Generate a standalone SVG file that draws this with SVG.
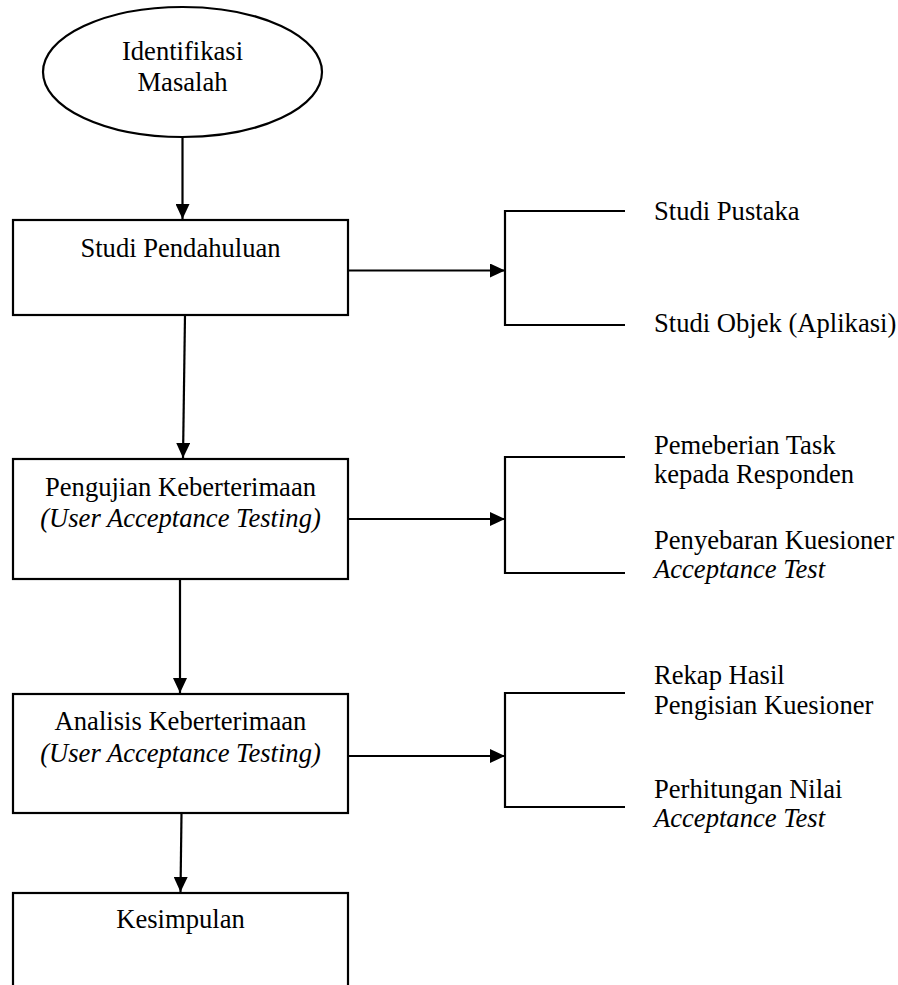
<svg xmlns="http://www.w3.org/2000/svg" width="898" height="985" viewBox="0 0 898 985">
<style>
.s{fill:none;stroke:#000;stroke-width:2.2}
.n{fill:#fff;stroke:#000;stroke-width:2.2}
text{font-size:26.6px;fill:#000}
.c{text-anchor:middle}
.i{font-style:italic}
</style>
<defs>
<marker id="ah" viewBox="0 0 15 14" refX="15" refY="7" markerWidth="15" markerHeight="14" markerUnits="userSpaceOnUse" orient="auto">
<path d="M0,0 L15,7 L0,14 Z" fill="#000"/>
</marker>
</defs>
<rect width="898" height="985" fill="#fff"/>
<g id="connectors">
<line class="s" x1="182.5" y1="137" x2="182.5" y2="219" marker-end="url(#ah)"/>
<line class="s" x1="185" y1="315" x2="183" y2="458" marker-end="url(#ah)"/>
<line class="s" x1="180" y1="579" x2="180" y2="693" marker-end="url(#ah)"/>
<line class="s" x1="181.5" y1="813" x2="180.5" y2="892" marker-end="url(#ah)"/>
<line class="s" x1="348" y1="270.5" x2="505" y2="270.5" marker-end="url(#ah)"/>
<line class="s" x1="348" y1="519" x2="505" y2="519" marker-end="url(#ah)"/>
<line class="s" x1="348" y1="756" x2="505" y2="756" marker-end="url(#ah)"/>
<path class="s" d="M625,211 H505 V325 H625"/>
<path class="s" d="M625,457 H505 V573 H625"/>
<path class="s" d="M625,693 H505 V807 H625"/>
</g>
<g font-family="Liberation Serif, DejaVu Serif, serif">
<g id="identifikasi">
<ellipse class="n" cx="182.5" cy="72" rx="139.5" ry="65"/>
<text class="c" x="182.5" y="60">Identifikasi</text>
<text class="c" x="182.5" y="91">Masalah</text>
</g>
<g id="studi">
<rect class="n" x="13" y="220" width="335" height="95"/>
<text class="c" x="180.5" y="257">Studi Pendahuluan</text>
</g>
<g id="pengujian">
<rect class="n" x="13" y="459" width="335" height="120"/>
<text class="c" x="180.5" y="496">Pengujian Keberterimaan</text>
<text class="c i" x="180.5" y="527">(User Acceptance Testing)</text>
</g>
<g id="analisis">
<rect class="n" x="13" y="694" width="335" height="119"/>
<text class="c" x="180.5" y="730">Analisis Keberterimaan</text>
<text class="c i" x="180.5" y="762">(User Acceptance Testing)</text>
</g>
<g id="kesimpulan">
<rect class="n" x="13" y="893" width="335" height="120"/>
<text class="c" x="180.5" y="928">Kesimpulan</text>
</g>
<g id="studi-pustaka"><text x="654" y="220">Studi Pustaka</text></g>
<g id="studi-objek"><text x="654" y="332">Studi Objek (Aplikasi)</text></g>
<g id="pemeberian"><text x="654" y="454">Pemeberian Task</text><text x="654" y="483">kepada Responden</text></g>
<g id="penyebaran"><text x="654" y="549">Penyebaran Kuesioner</text><text class="i" x="654" y="578">Acceptance Test</text></g>
<g id="rekap"><text x="654" y="684">Rekap Hasil</text><text x="654" y="714">Pengisian Kuesioner</text></g>
<g id="perhitungan"><text x="654" y="798">Perhitungan Nilai</text><text class="i" x="654" y="827">Acceptance Test</text></g>
</g>
</svg>
